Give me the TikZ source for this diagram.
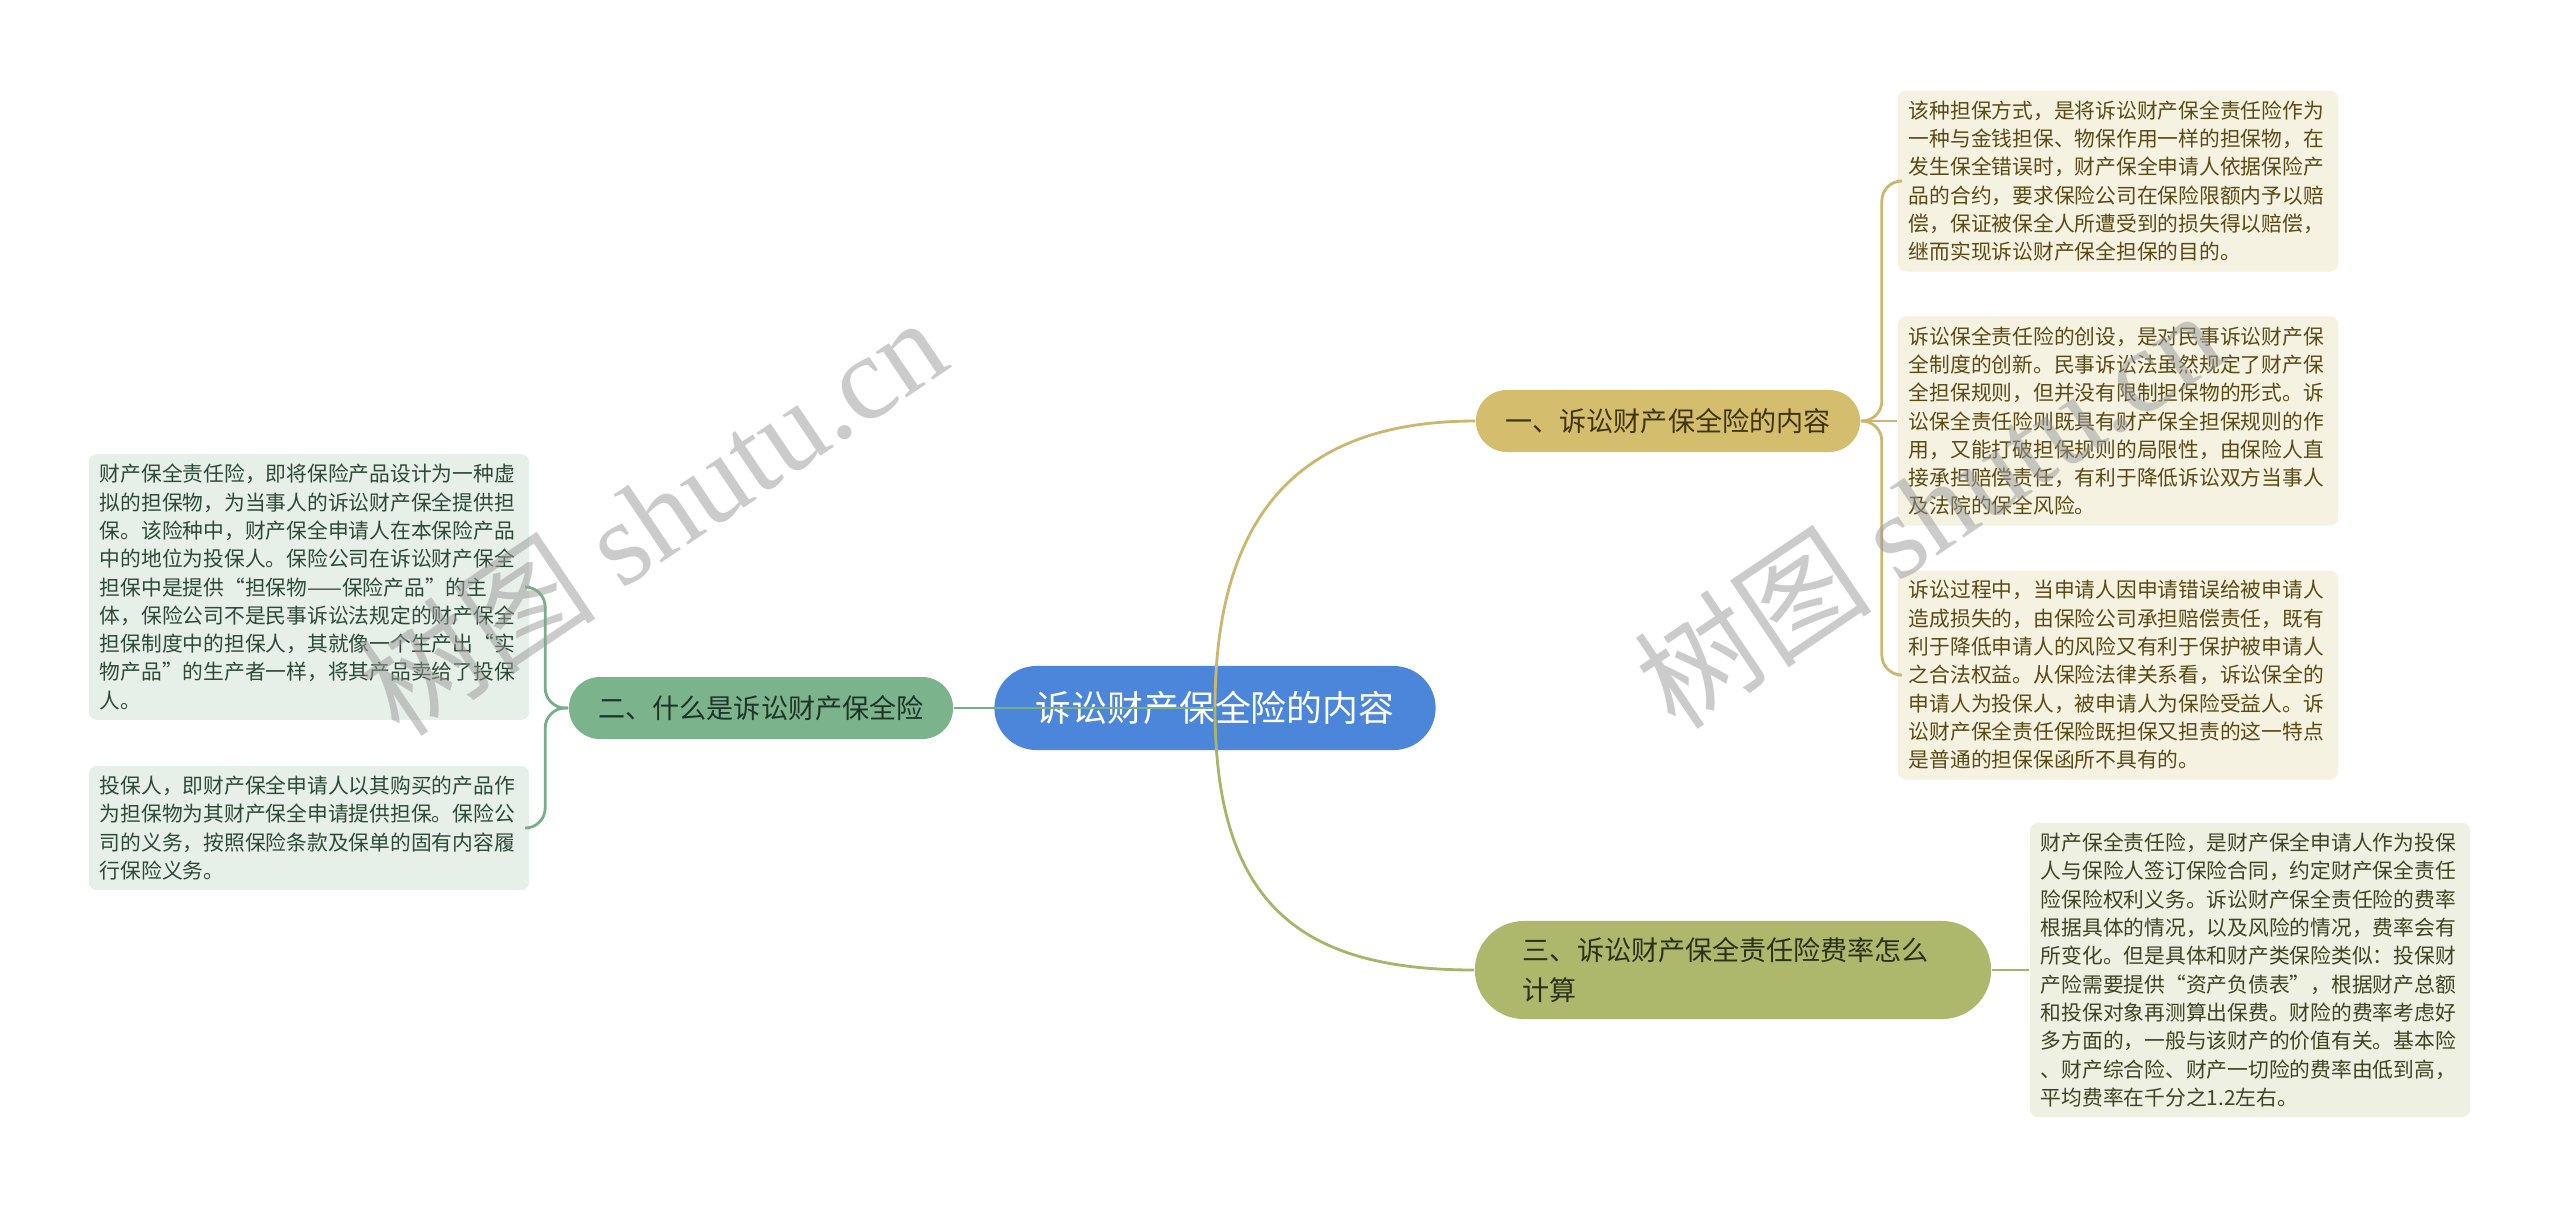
\documentclass[tikz,border=0pt]{standalone}
\usepackage{fontspec}
\setmainfont{Noto Sans CJK SC}
\newfontfamily\wmfont{Liberation Serif}
\usepackage{tikz}

\definecolor{rootblue}{HTML}{4C86DA}
\definecolor{goldfill}{HTML}{D4BD6C}
\definecolor{greenfill}{HTML}{7AB38C}
\definecolor{olivefill}{HTML}{AEB86D}
\definecolor{goldleaf}{HTML}{F5F2E2}
\definecolor{oliveleaf}{HTML}{EEF0E2}
\definecolor{greenleaf}{HTML}{E6EFE8}
\definecolor{goldtext}{HTML}{5A4A14}
\definecolor{olivetext}{HTML}{3E4424}
\definecolor{greentext}{HTML}{2E4A36}
\definecolor{goldline}{HTML}{CDB66E}
\definecolor{oliveline}{HTML}{A9B46A}
\definecolor{greenline}{HTML}{76B08A}

\begin{document}
\begin{tikzpicture}[x=0.01cm,y=-0.01cm]
        \tikzset{root/.style={rectangle, fill=rootblue, text=white, inner sep=0pt, minimum width=4.41cm, minimum height=0.84cm, rounded corners=0.42cm, font=\fontsize{10.2pt}{12pt}\selectfont},
                 branch/.style={rectangle, inner sep=0pt, minimum width=3.84cm, minimum height=0.62cm, rounded corners=0.31cm, font=\fontsize{7.7pt}{11.4pt}\selectfont},
                 leaf/.style={rectangle, rounded corners=0.08cm, inner xsep=0.11cm, inner ysep=0.1cm, text width=4.18cm, align=left, font=\fontsize{5.9pt}{8.05pt}\selectfont},
                 link/.style={line width=0.8pt},
                 watermark/.style={rotate=34, text=black!40, text opacity=0.5, font=\fontsize{34pt}{38pt}\selectfont}}
        \fill[white] (0,0) rectangle (2560,1205);
        \useasboundingbox (0,0) rectangle (2560,1205);

	%---NODES---
        \node[root] (0) at (1215,708) {诉讼财产保全险的内容};

        \node[branch, fill=goldfill, text=goldtext!70!black] (1) at (1668,421) {一、诉讼财产保全险的内容};
        \node[branch, fill=greenfill, text=greentext!70!black] (2) at (761,708) {二、什么是诉讼财产保全险};
        \node[branch, fill=olivefill, text=olivetext!70!black, minimum width=5.16cm, minimum height=0.98cm, rounded corners=0.49cm, text width=4.2cm, align=left] (3) at (1733,970) {三、诉讼财产保全责任险费率怎么\\计算};

        \node[leaf, fill=goldleaf, text=goldtext] (11) at (2118,181) {该种担保方式，是将诉讼财产保全责任险作为\\一种与金钱担保、物保作用一样的担保物，在\\发生保全错误时，财产保全申请人依据保险产\\品的合约，要求保险公司在保险限额内予以赔\\偿，保证被保全人所遭受到的损失得以赔偿，\\继而实现诉讼财产保全担保的目的。};
        \node[leaf, fill=goldleaf, text=goldtext] (12) at (2118,421) {诉讼保全责任险的创设，是对民事诉讼财产保\\全制度的创新。民事诉讼法虽然规定了财产保\\全担保规则，但并没有限制担保物的形式。诉\\讼保全责任险则既具有财产保全担保规则的作\\用，又能打破担保规则的局限性，由保险人直\\接承担赔偿责任，有利于降低诉讼双方当事人\\及法院的保全风险。};
        \node[leaf, fill=goldleaf, text=goldtext] (13) at (2118,675) {诉讼过程中，当申请人因申请错误给被申请人\\造成损失的，由保险公司承担赔偿责任，既有\\利于降低申请人的风险又有利于保护被申请人\\之合法权益。从保险法律关系看，诉讼保全的\\申请人为投保人，被申请人为保险受益人。诉\\讼财产保全责任保险既担保又担责的这一特点\\是普通的担保保函所不具有的。};

        \node[leaf, fill=greenleaf, text=greentext] (21) at (309,587) {财产保全责任险，即将保险产品设计为一种虚\\拟的担保物，为当事人的诉讼财产保全提供担\\保。该险种中，财产保全申请人在本保险产品\\中的地位为投保人。保险公司在诉讼财产保全\\担保中是提供“担保物——保险产品”的主\\体，保险公司不是民事诉讼法规定的财产保全\\担保制度中的担保人，其就像一个生产出“实\\物产品”的生产者一样，将其产品卖给了投保\\人。};
        \node[leaf, fill=greenleaf, text=greentext] (22) at (309,828) {投保人，即财产保全申请人以其购买的产品作\\为担保物为其财产保全申请提供担保。保险公\\司的义务，按照保险条款及保单的固有内容履\\行保险义务。};

        \node[leaf, fill=oliveleaf, text=olivetext] (31) at (2250,970) {财产保全责任险，是财产保全申请人作为投保\\人与保险人签订保险合同，约定财产保全责任\\险保险权利义务。诉讼财产保全责任险的费率\\根据具体的情况，以及风险的情况，费率会有\\所变化。但是具体和财产类保险类似：投保财\\产险需要提供“资产负债表”，根据财产总额\\和投保对象再测算出保费。财险的费率考虑好\\多方面的，一般与该财产的价值有关。基本险\\、财产综合险、财产一切险的费率由低到高，\\平均费率在千分之1.2左右。};

	%---EDGES---
        \draw[link, goldline]   (0.center) .. controls +(0,-200) and +(-170,0) .. (1.west) ;
        \draw[link, oliveline]  (0.center) .. controls +(0,200) and +(-170,0) .. (3.west) ;
        \draw[link, greenline]  (0.center) -- (2.east) ;

        \draw[link, goldline, rounded corners=0.2cm]  (1.east) -- ++(21,0) |- (11.west) ;
        \draw[link, goldline]                         (1.east) -- (12.west) ;
        \draw[link, goldline, rounded corners=0.2cm]  (1.east) -- ++(21,0) |- (13.west) ;

        \draw[link, greenline, rounded corners=0.2cm] (2.west) -- ++(-23,0) |- (21.east) ;
        \draw[link, greenline, rounded corners=0.2cm] (2.west) -- ++(-23,0) |- (22.east) ;

        \draw[link, oliveline]  (3.east) -- (31.west) ;

        \node[watermark] (w1) at (652,515) {树图 {\wmfont shutu.cn}};
        \node[watermark] (w2) at (1928,508) {树图 {\wmfont shutu.cn}};
\end{tikzpicture}
\end{document}
